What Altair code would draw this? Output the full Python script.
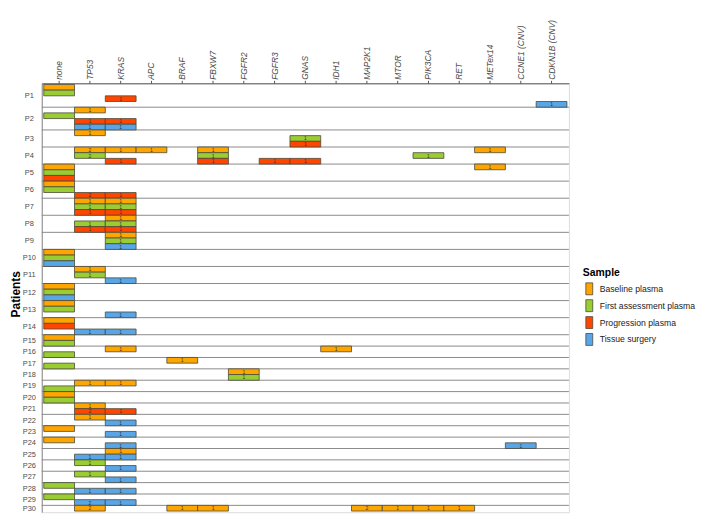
import json
import altair as alt
import pandas as pd

# ---------------- data ----------------
genes = ["none", "TP53", "KRAS", "APC", "BRAF", "FBXW7", "FGFR2", "FGFR3", "GNAS",
         "IDH1", "MAP2K1", "MTOR", "PIK3CA", "RET", "METex14", "CCNE1 (CNV)", "CDKN1B (CNV)"]

sample_codes = ["B", "F", "P", "T"]
sample_names = ["Baseline plasma", "First assessment plasma", "Progression plasma", "Tissue surgery"]
sample_colors = ["#FFA500", "#9ACD32", "#FF4500", "#58A6E8"]

# one entry per sample row (top to bottom)
row_patient = [
    "P1", "P1", "P1", "P1",
    "P2", "P2", "P2", "P2",
    "P3", "P3", "P3",
    "P4", "P4", "P4",
    "P5", "P5", "P5",
    "P6", "P6", "P6",
    "P7", "P7", "P7",
    "P8", "P8", "P8",
    "P9", "P9", "P9",
    "P10", "P10", "P10",
    "P11", "P11", "P11",
    "P12", "P12", "P12",
    "P13", "P13", "P13",
    "P14", "P14", "P14",
    "P15", "P15",
    "P16", "P16",
    "P17", "P17",
    "P18", "P18",
    "P19", "P19",
    "P20", "P20",
    "P21", "P21",
    "P22", "P22",
    "P23", "P23",
    "P24", "P24",
    "P25", "P25",
    "P26", "P26",
    "P27", "P27",
    "P28", "P28",
    "P29", "P29",
    "P30",
]
row_sample = [
    "B", "F", "P", "T",
    "B", "F", "P", "T",
    "B", "F", "P",
    "B", "F", "P",
    "B", "F", "P",
    "B", "F", "P",
    "B", "F", "P",
    "B", "F", "P",
    "B", "F", "T",
    "B", "F", "T",
    "B", "F", "T",
    "B", "F", "T",
    "B", "F", "T",
    "B", "P", "T",
    "B", "F",
    "B", "F",
    "B", "F",
    "B", "F",
    "B", "F",
    "B", "F",
    "B", "P",
    "B", "T",
    "B", "T",
    "B", "T",
    "B", "T",
    "F", "T",
    "F", "T",
    "F", "T",
    "F", "T",
    "B",
]
row_findings = [
    "none", "none", "KRAS=1", "CDKN1B (CNV)=1",
    "TP53=1", "none", "TP53=1;KRAS=1", "TP53=1;KRAS=1",
    "TP53=1", "GNAS=1", "GNAS=1",
    "TP53=2;KRAS=1;APC=1;FBXW7=1;METex14=1", "TP53=2;FBXW7=1;PIK3CA=1", "KRAS=1;FBXW7=1;FGFR3=1;GNAS=1",
    "none;METex14=1", "none", "none",
    "none", "none", "TP53=2;KRAS=1",
    "TP53=1;KRAS=1", "TP53=1;KRAS=1", "TP53=1;KRAS=1",
    "KRAS=1", "TP53=1;KRAS=1", "TP53=1;KRAS=1",
    "KRAS=1", "KRAS=1", "KRAS=1",
    "none", "none", "none",
    "TP53=1", "TP53=1", "KRAS=1",
    "none", "none", "none",
    "none", "none", "KRAS=1",
    "none", "none", "TP53=1;KRAS=1",
    "none", "none",
    "KRAS=1;IDH1=1", "none",
    "BRAF=1", "none",
    "FGFR2=1", "FGFR2=1",
    "TP53=1;KRAS=1", "none",
    "none", "none",
    "TP53=1", "TP53=2;KRAS=1",
    "TP53=1", "KRAS=1",
    "none", "KRAS=1",
    "none", "KRAS=1;CCNE1 (CNV)=1",
    "KRAS=1", "TP53=1;KRAS=1",
    "TP53=1", "KRAS=1",
    "TP53=1", "KRAS=1",
    "none", "TP53=1;KRAS=1",
    "none", "TP53=2;KRAS=1",
    "TP53=2;BRAF=1;FBXW7=1;MAP2K1=2;MTOR=1;PIK3CA=1;RET=1",
]

# ---------------- build tables ----------------
code_to_name = dict(zip(sample_codes, sample_names))
tiles = []
for i, (p, s, f) in enumerate(zip(row_patient, row_sample, row_findings)):
    for item in f.split(";"):
        if "=" in item:
            g, c = item.split("=")
            lab = c
        else:
            g, lab = item, ""
        tiles.append({"patient": p, "sample": code_to_name[s], "gene": g,
                      "label": lab, "y0": i, "y1": i + 1, "ym": i + 0.5})
tiles = pd.DataFrame(tiles)

patients = list(dict.fromkeys(row_patient))
first = {p: row_patient.index(p) for p in patients}
count = {p: row_patient.count(p) for p in patients}
centers = [first[p] + count[p] / 2 for p in patients]
seps = pd.DataFrame({"sep": [first[p] for p in patients[1:]]})

n_rows = len(row_patient)
yscale = alt.Scale(domain=[-0.2, n_rows + 0.2], reverse=True, nice=False, zero=False)
xscale = alt.Scale(domain=genes, paddingInner=0, paddingOuter=0.065)

label_expr = f"{json.dumps(patients)}[indexof({json.dumps(centers)}, datum.value)]"

xaxis = alt.Axis(orient="top", title=None, labelAngle=270, labelFontStyle="italic",
                 labelFontSize=8.5, labelColor="#4D4D4D", tickSize=3, tickColor="#555",
                 labelPadding=1, domainColor="#555", grid=False)
yaxis = alt.Axis(values=centers, labelExpr=label_expr, title="Patients",
                 titleFontSize=12, titleFontWeight="bold", titleColor="#000",
                 titleX=-22.5, titleY=212, titleAngle=270, titleBaseline="alphabetic",
                 titleAlign="center",
                 labelAlign="center", labelPadding=13,
                 labelFontSize=7.5, labelColor="#4D4D4D", ticks=False,
                 domainColor="#8a8a8a", grid=False)

rules = alt.Chart(seps).mark_rule(color="#8a8a8a", strokeWidth=1).encode(
    y=alt.Y("sep:Q", scale=yscale, axis=yaxis)
)

rects = alt.Chart(tiles).mark_rect(stroke="#4a4a3a", strokeWidth=0.8).encode(
    x=alt.X("gene:N", scale=xscale, sort=genes, axis=xaxis),
    y=alt.Y("y0:Q", scale=yscale, axis=yaxis),
    y2="y1:Q",
    color=alt.Color("sample:N", scale=alt.Scale(domain=sample_names, range=sample_colors),
                    legend=alt.Legend(title="Sample", orient="none", legendX=545, legendY=186,
                                      symbolType="M-0.58,-1H0.58V1H-0.58Z", symbolSize=144,
                                      symbolStrokeColor="#4a4a3a", symbolStrokeWidth=0.8,
                                      symbolOpacity=1, rowPadding=0, labelFontSize=8.7,
                                      labelColor="#222", titleFontSize=10.5, titleColor="#000",
                                      labelOffset=4, titlePadding=4)),
)

texts = alt.Chart(tiles).mark_text(fontSize=5, color="#333", baseline="middle").encode(
    x=alt.X("gene:N", scale=xscale, sort=genes, axis=xaxis),
    y=alt.Y("ym:Q", scale=yscale, axis=yaxis),
    text="label:N",
)

chart = alt.layer(rules, rects, texts).properties(
    width=531, height=432,
    autosize=alt.AutoSizeParams(type="none"),
    padding={"left": 34, "top": 74, "right": 130, "bottom": 4},
).configure_view(fill="#EBEBEB", strokeWidth=0).configure(font="Liberation Sans")

chart.save("out.html", embed_options={"renderer": "svg", "actions": False})
